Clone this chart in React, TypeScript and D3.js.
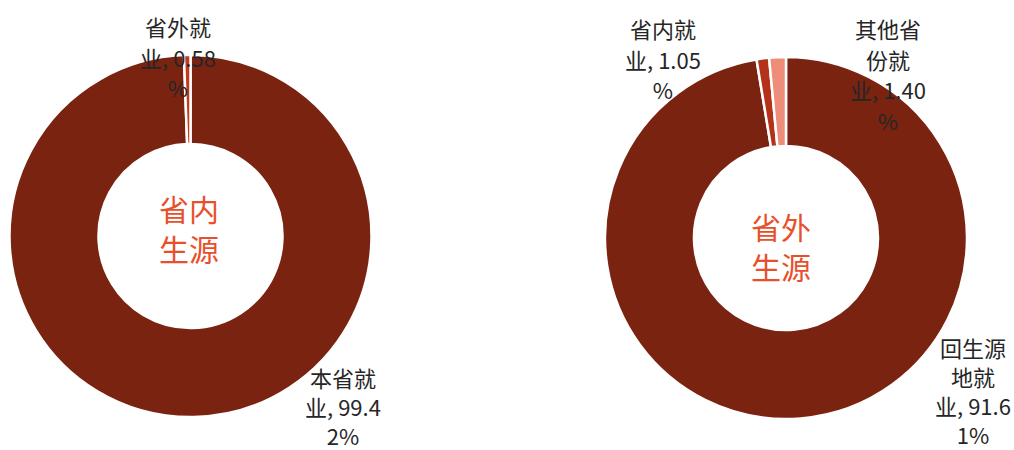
import React from 'react';
import * as d3 from 'd3';

const leftCategories = ['本省就业', '省外就业'];
const leftValues = [99.42, 0.58];
const leftColors = ['#7A2311', '#C23A1C'];
const leftLabelLines = [
  ['本省就', '业, 99.4', '2%'],
  ['省外就', '业, 0.58', '%'],
];
const leftCenterText = ['省内', '生源'];

const rightCategories = ['回生源地就业', '省内就业', '其他省份就业'];
const rightValues = [91.61, 1.05, 1.4];
const rightColors = ['#7A2311', '#B5321A', '#EE8D79'];
const rightLabelLines = [
  ['回生源', '地就', '业, 91.6', '1%'],
  ['省内就', '业, 1.05', '%'],
  ['其他省', '份就', '业, 1.40', '%'],
];
const rightCenterText = ['省外', '生源'];

type Donut = {
  cx: number;
  cy: number;
  values: number[];
  categories: string[];
  colors: string[];
  labels: string[][];
  labelPos: [number, number, number][];
  center: string[];
  centerPos: [number, number];
};

const FONT = "'Noto Sans CJK SC', 'Noto Sans', sans-serif";

function DonutChart({ d }: { d: Donut }) {
  const pie = d3
    .pie<number>()
    .sort(null)
    .value((v) => v)
    .startAngle(0)
    .endAngle(2 * Math.PI);
  const arcs = pie(d.values);
  const arc = d3.arc<d3.PieArcDatum<number>>().innerRadius(92).outerRadius(181);
  return (
    <g>
      <g transform={`translate(${d.cx},${d.cy})`}>
        {arcs.map((a, i) => (
          <path
            key={d.categories[i]}
            d={arc(a) || ''}
            fill={d.colors[i]}
            stroke="#fff"
            strokeWidth={2.5}
            strokeLinejoin="miter"
          />
        ))}
      </g>
      {d.labels.map((lines, i) => (
        <text
          key={'l' + i}
          fontFamily={FONT}
          fontSize={22}
          fill="#262626"
          textAnchor="middle"
        >
          {lines.map((ln, j) => (
            <tspan
              key={j}
              x={d.labelPos[i][0]}
              y={d.labelPos[i][1] + j * d.labelPos[i][2]}
              dominantBaseline="central"
            >
              {ln}
            </tspan>
          ))}
        </text>
      ))}
      <text fontFamily={FONT} fontSize={30} fill="#E8502B" textAnchor="middle">
        {d.center.map((ln, j) => (
          <tspan
            key={j}
            x={d.centerPos[0]}
            y={d.centerPos[1] + j * 40}
            dominantBaseline="central"
          >
            {ln}
          </tspan>
        ))}
      </text>
    </g>
  );
}

export default function App() {
  const left: Donut = {
    cx: 190.5,
    cy: 236,
    values: leftValues,
    categories: leftCategories,
    colors: leftColors,
    labels: leftLabelLines,
    labelPos: [
      [343, 377, 29],
      [178, 26, 30.5],
    ],
    center: leftCenterText,
    centerPos: [189, 208],
  };
  const right: Donut = {
    cx: 786,
    cy: 238,
    values: rightValues,
    categories: rightCategories,
    colors: rightColors,
    labels: rightLabelLines,
    labelPos: [
      [973, 347, 29],
      [663, 28, 30.5],
      [888, 28, 30.5],
    ],
    center: rightCenterText,
    centerPos: [781, 226],
  };
  return (
    <svg
      width={1014}
      height={450}
      style={{ position: 'absolute', left: 0, top: 0, background: '#fff' }}
    >
      <DonutChart d={left} />
      <DonutChart d={right} />
    </svg>
  );
}
